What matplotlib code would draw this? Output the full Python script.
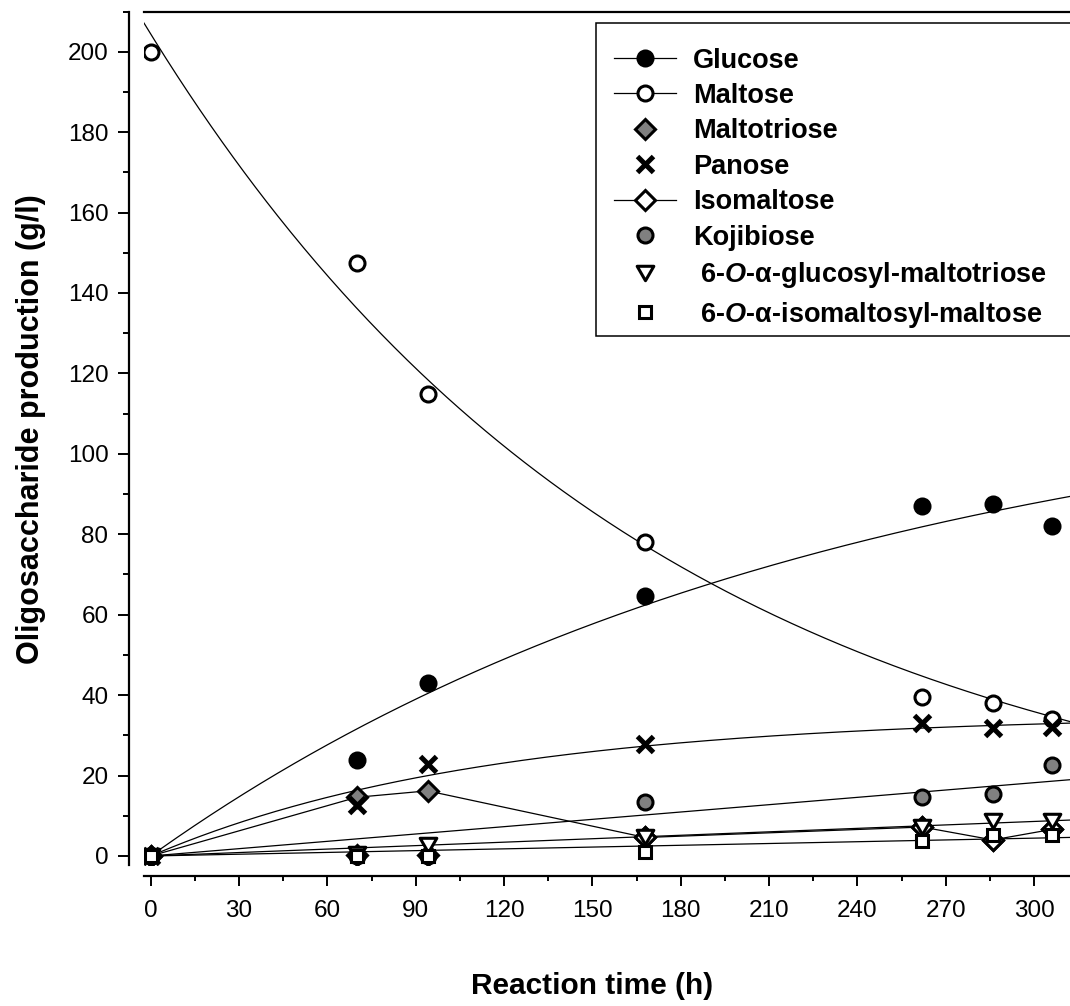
import numpy as np
import matplotlib
matplotlib.use("Agg")
from matplotlib import pyplot as plt
from matplotlib.lines import Line2D
from matplotlib.patches import Rectangle
from matplotlib.path import Path
from matplotlib.ticker import MultipleLocator

plt.rcParams['font.family'] = ['Liberation Sans', 'DejaVu Sans']
plt.rcParams['mathtext.fontset'] = 'custom'
plt.rcParams['mathtext.it'] = 'Liberation Sans:italic:bold'
plt.rcParams['mathtext.rm'] = 'Liberation Sans:bold'

# reaction time (h)
time = [0, 70, 94, 168, 262, 286, 306]

glucose = [0, 23.9, 43.0, 64.7, 87.0, 87.5, 82.0]
maltose = [200.0, 147.5, 115.0, 78.0, 39.5, 38.0, 34.0]
maltotriose = [0, 14.6, 16.2, 4.6, 7.2, 4.0, 6.6]
panose = [0, 12.7, 22.9, 27.9, 33.0, 31.8, 32.0]
isomaltose = [0, 0.2, 0.2, 4.6, 7.2, 4.0, 6.6]
kojibiose = [0, 0, 0, 13.5, 14.6, 15.3, 22.6]
glc_maltotriose = [0, 0.6, 2.7, 4.6, 7.3, 8.8, 8.8]
iso_maltose = [0, 0, 0, 1.1, 3.7, 5.2, 5.2]

labels = ['Glucose', 'Maltose', 'Maltotriose', 'Panose', 'Isomaltose', 'Kojibiose',
          r' 6-$\mathit{O}$-α-glucosyl-maltotriose', r' 6-$\mathit{O}$-α-isomaltosyl-maltose']

xlim = (-2.28, 312.2)
ylim = (-2.24, 210)


def fit(t, y, kind):
    # least squares for a*(1-exp(-b t)) or a*exp(-b t)
    t = np.asarray(t, float)
    y = np.asarray(y, float)
    best = None
    for b in np.linspace(1e-5, 0.05, 5000):
        f = np.exp(-b * t) if kind == 'decay' else 1 - np.exp(-b * t)
        a = (f @ y) / (f @ f)
        sse = ((y - a * f) ** 2).sum()
        if best is None or sse < best[0]:
            best = (sse, a, b)
    a, b = best[1], best[2]
    if kind == 'decay':
        return lambda x: a * np.exp(-b * x)
    return lambda x: a * (1 - np.exp(-b * x))


fig = plt.figure(figsize=(10.7, 10.06), dpi=100)
ax = fig.add_axes([144 / 1070, 141 / 1006, 926 / 1070, 853.5 / 1006])

tt = np.linspace(xlim[0], xlim[1], 500)
for ys, kind in [(glucose, 'rise'), (maltose, 'decay'), (panose, 'rise'),
                 (kojibiose, 'rise'), (glc_maltotriose, 'rise'), (iso_maltose, 'rise')]:
    ax.plot(tt, fit(time, ys, kind)(tt), color='black', lw=0.9, zorder=2)

ax.plot(time, maltotriose, color='black', lw=0.9, zorder=2)

mew = 2.2
tri = Path([(-1, 0.866), (1, 0.866), (0, -0.866), (-1, 0.866)],
           [Path.MOVETO, Path.LINETO, Path.LINETO, Path.CLOSEPOLY])
styles = {
    'glucose': dict(marker='o', ms=10.8, mfc='black'),
    'maltose': dict(marker='o', ms=10.8, mfc='white'),
    'maltotriose': dict(marker='D', ms=10.0, mfc='#808080'),
    'panose': dict(marker='x', ms=11.5, mew=3.6),
    'isomaltose': dict(marker='D', ms=10.0, mfc='white'),
    'kojibiose': dict(marker='o', ms=10.8, mfc='#808080'),
    'glc_maltotriose': dict(marker=tri, ms=12.0, mfc='white'),
    'iso_maltose': dict(marker='s', ms=8.8, mfc='white'),
}
series = [('glucose', glucose), ('maltose', maltose), ('maltotriose', maltotriose),
          ('panose', panose), ('isomaltose', isomaltose), ('kojibiose', kojibiose),
          ('glc_maltotriose', glc_maltotriose), ('iso_maltose', iso_maltose)]
for name, ys in series:
    st = dict(mec='black', mew=mew)
    st.update(styles[name])
    ax.plot(time, ys, ls='none', zorder=3, **st)

ax.set_xlim(xlim)
ax.set_ylim(ylim)
ax.set_xticks(range(0, 301, 30))
ax.set_yticks(range(0, 201, 20))
ax.xaxis.set_minor_locator(MultipleLocator(15))
ax.yaxis.set_minor_locator(MultipleLocator(10))
ax.tick_params(axis='both', which='both', direction='out', width=1.4, labelsize=17.5)
ax.tick_params(axis='y', which='major', length=8, pad=7)
ax.tick_params(axis='y', which='minor', length=4.3)
ax.tick_params(axis='x', which='major', length=7, pad=10)
ax.tick_params(axis='x', which='minor', length=3.8)

ax.spines['right'].set_visible(False)
for s in ['left', 'bottom', 'top']:
    ax.spines[s].set_linewidth(1.6)
ax.spines['left'].set_position(('outward', 10.6))
ax.spines['bottom'].set_position(('outward', 7.9))

ax.set_xlabel('Reaction time (h)', fontsize=21.5, fontweight='bold')
ax.set_ylabel('Oligosaccharide production (g/l)', fontsize=22, fontweight='bold')
ax.xaxis.set_label_coords((592 - 144) / 926, (865 - 972) / 853.5)
ax.yaxis.set_label_coords((46 - 144) / 926, (865 - 429) / 853.5)

# legend
fig.patches.append(Rectangle((596 / 1070, (1006 - 336) / 1006), 500 / 1070, 313 / 1006,
                             transform=fig.transFigure, facecolor='white', edgecolor='black',
                             lw=1.1, zorder=5))
line_names = ['glucose', 'maltose', 'isomaltose']
handles = []
for name, ys in series:
    st = dict(mec='black', mew=mew, color='black', lw=0.9)
    st.update(styles[name])
    if name not in line_names:
        st['ls'] = 'none'
    handles.append(Line2D([], [], **st))
leg = fig.legend(handles, labels, loc='upper left', bbox_to_anchor=(614 / 1070, 1 - 47.5 / 1006),
                 frameon=False, borderpad=0, borderaxespad=0, handlelength=2.29,
                 handletextpad=0.63, labelspacing=0.35,
                 prop={'size': 19.5, 'weight': 'bold'})
leg.set_zorder(6)

fig.savefig('out.png', dpi=100)
